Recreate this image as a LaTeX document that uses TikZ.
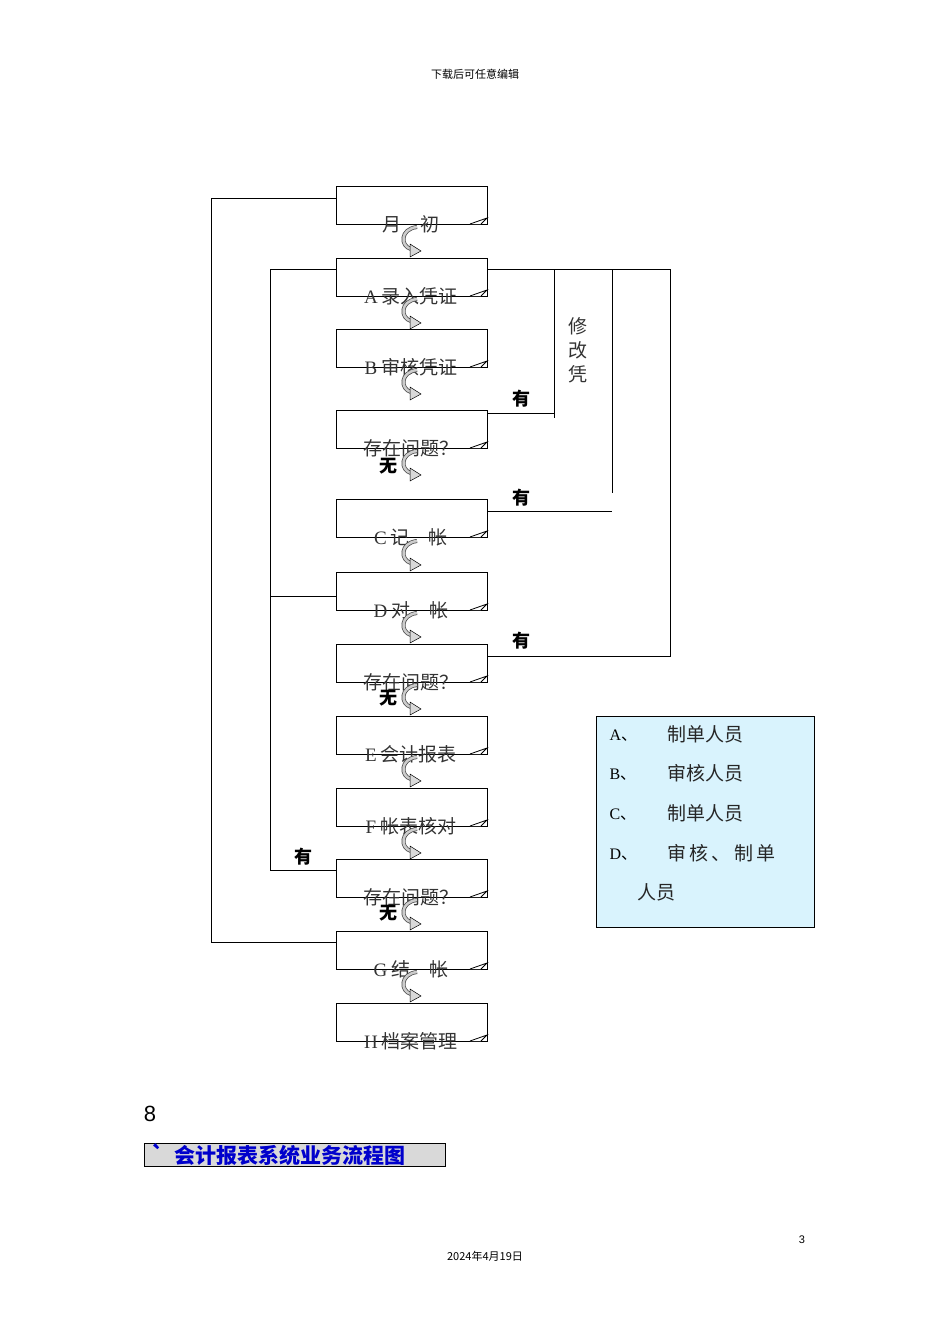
\documentclass[tikz,border=0pt]{standalone}
\usepackage{fontspec}
\setmainfont{Liberation Serif}
\newfontfamily\cjk{Noto Sans CJK SC}
\newfontfamily\sans{Liberation Sans}
\begin{document}
\begin{tikzpicture}[x=1pt,y=-1pt,
  box/.style={draw,line width=0.8pt,minimum width=151pt,minimum height=38pt,anchor=north west,inner sep=0},
  lbl/.style={font=\cjk\fontsize{19}{19}\selectfont,text=black!80},
  yes/.style={font=\cjk\bfseries\fontsize{18}{18}\selectfont},
  ln/.style={line width=0.8pt}]
\useasboundingbox (0,0) rectangle (950,1344);
\node[font=\cjk\fontsize{11}{11}\selectfont] (hdr) at (475,74) {下载后可任意编辑};
\foreach \n/\y/\t in {b0/186/月\quad 初,bA/258/{\rmfamily A} 录入凭证,bB/329/{\rmfamily B} 审核凭证,q1/410/存在问题？,bC/499/{\rmfamily C} 记\quad 帐,bD/572/{\rmfamily D} 对\quad 帐,q2/644/存在问题？,bE/716/{\rmfamily E} 会计报表,bF/788/{\rmfamily F} 帐表核对,q3/859/存在问题？,bG/931/{\rmfamily G} 结\quad 帐,bH/1003/{\rmfamily H} 档案管理}{
  \node[box] (\n) at (336,\y) {};
  \draw[ln,fill=white] (470,\y+38) -- (487,\y+32) -- (481,\y+38);
  \node[lbl] at (411,\y+38) {\t};
}
% curved arrows
\foreach \y in {224,296,367,448,538,610,682,754,826,897,969}{
  \draw[black!70,line width=4pt] (417,\y+3) .. controls (400,\y+5) and (400,\y+22) .. (411,\y+25);
  \draw[gray!40,line width=2.5pt] (417,\y+3) .. controls (400,\y+5) and (400,\y+22) .. (411,\y+25);
  \draw[black,line width=0.5pt,fill=gray!30] (410,\y+20) -- (421,\y+27) -- (410,\y+33) -- cycle;
}
\foreach \y in {466,698,913}{\node[yes] at (388,\y) {无};}
% outer loop
\coordinate (o1) at (211,198); \coordinate (o2) at (211,942);
\draw[ln] (bG.west|-o2) -- (o2) -- (o1) -- (b0.west|-o1);
% inner loop
\coordinate (i1) at (270,269); \coordinate (i2) at (270,870); \coordinate (i3) at (270,596);
\draw[ln] (bA.west|-i1) -- (i1) -- (i2) -- (q3.west|-i2);
\draw[ln] (i3) -- (bD.west|-i3);
\node[yes] at (303,857) {有};
% right
\coordinate (r0) at (670,269);
\draw[ln] (bA.east|-r0) -- (r0) -- (670,656) -- (q2.east|-656,656);
\draw[ln] (554,269) -- (554,418);
\draw[ln] (487,413) -- (554,413);
\draw[ln] (612,269) -- (612,493);
\draw[ln] (487,511) -- (612,511);
\node[yes] at (521,399) {有};
\node[yes] at (521,498) {有};
\node[yes] at (521,641) {有};
\node[lbl,align=center,font=\cjk\fontsize{19}{24}\selectfont] at (578,350) {修\\改\\凭};
% legend
\node[draw,fill=cyan!15,minimum width=218pt,minimum height=211pt,anchor=north west,inner sep=0] (leg) at (596,716) {};
\begin{scope}[font=\fontsize{16}{16}\selectfont]
\node[anchor=west] at (606,736) {A{\cjk 、}};
\node[anchor=west] at (606,775) {B{\cjk 、}};
\node[anchor=west] at (606,815) {C{\cjk 、}};
\node[anchor=west] at (606,855) {D{\cjk 、}};
\end{scope}
\begin{scope}[font=\cjk\fontsize{19}{19}\selectfont,text=black!85]
\node[anchor=west] at (664,734) {制单人员};
\node[anchor=west] at (664,773) {审核人员};
\node[anchor=west] at (664,813) {制单人员};
\node[anchor=west] at (664,853) {审\,核\,、\,制\,单};
\node[anchor=west] at (634,892) {人员};
\end{scope}
\node[font=\sans\fontsize{22}{22}\selectfont] at (150,1114) {8};
\node[draw,fill=gray!30,minimum width=301pt,minimum height=23pt,anchor=north west,inner sep=0] (tt) at (144,1143) {};
\node[anchor=west,font=\cjk\bfseries\fontsize{21}{21}\selectfont,text=blue!80!black] at (148,1155) {`\ \ 会计报表系统业务流程图};
\node[font=\sans\fontsize{11}{11}\selectfont] at (802,1240) {3};
\node[font=\cjk\fontsize{11}{11}\selectfont] at (485,1256) {2024年4月19日};
\end{tikzpicture}
\end{document}
